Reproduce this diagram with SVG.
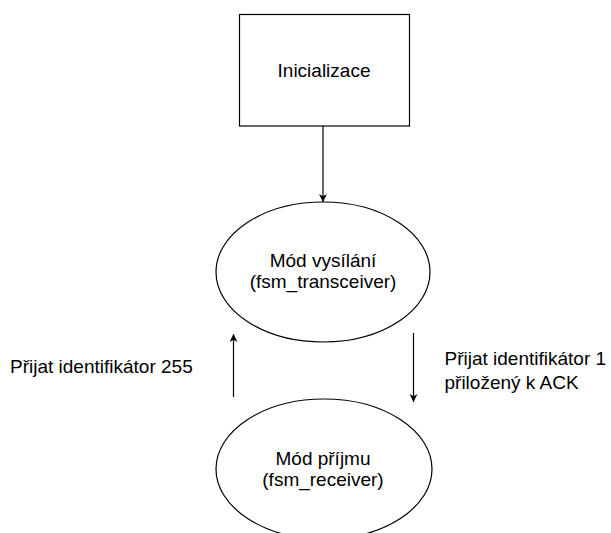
<svg xmlns="http://www.w3.org/2000/svg" width="611" height="533" viewBox="0 0 611 533">
<style>
.shape{fill:#ffffff;stroke:#000000;stroke-width:1.2}
.edge{fill:none;stroke:#000000;stroke-width:1.2}
text{font-family:"Liberation Sans",Arial,sans-serif;font-size:19px;fill:#000000}
.c{text-anchor:middle}
</style>
<defs>
<marker id="arrow" markerUnits="userSpaceOnUse" markerWidth="9" markerHeight="9" refX="8" refY="4" orient="auto">
<path d="M0,0 L8,4 L0,8 L2.2,4 Z" fill="#000000"/>
</marker>
</defs>
<rect width="611" height="533" fill="#ffffff"/>
<g id="connectors">
<line class="edge" x1="323" y1="126" x2="323" y2="202" marker-end="url(#arrow)"/>
<line class="edge" x1="233.5" y1="397" x2="233.5" y2="334" marker-end="url(#arrow)"/>
<line class="edge" x1="413.5" y1="333" x2="413.5" y2="402" marker-end="url(#arrow)"/>
<text x="10" y="372.5">Přijat identifikátor 255</text>
<text x="444.5" y="365">Přijat identifikátor 1</text>
<text x="444.5" y="388.5">přiložený k ACK</text>
</g>
<g id="inicializace">
<rect class="shape" x="239.5" y="14.5" width="170" height="111.5"/>
<text class="c" x="324" y="77">Inicializace</text>
</g>
<g id="mod-vysilani">
<ellipse class="shape" cx="323" cy="272" rx="107" ry="70"/>
<text class="c" x="323" y="267">Mód vysílání</text>
<text class="c" x="323" y="288">(fsm_transceiver)</text>
</g>
<g id="mod-prijmu">
<ellipse class="shape" cx="324" cy="469" rx="108" ry="70"/>
<text class="c" x="323" y="465">Mód příjmu</text>
<text class="c" x="323" y="486">(fsm_receiver)</text>
</g>
</svg>
